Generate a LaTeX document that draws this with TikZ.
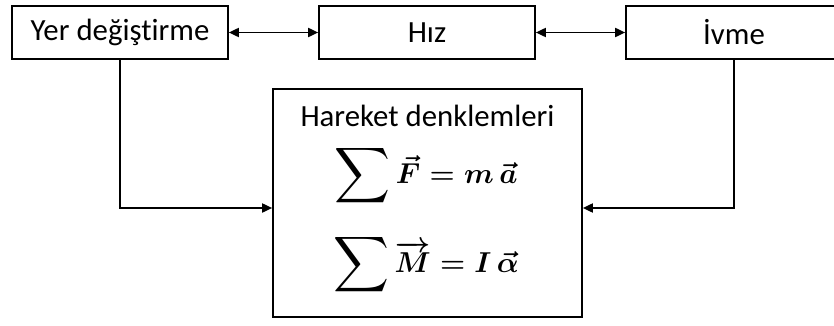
\documentclass[tikz,border=0pt]{standalone}
\usepackage{amsmath,amssymb}
\usepackage{graphicx}
\usepackage{fontspec}
\setmainfont[Ligatures=NoCommon]{Carlito}
\usepackage{tikz}
\usetikzlibrary{arrows.meta}
\newcommand{\buyuktoplam}{\mathop{\vcenter{\hbox{\scalebox{1.25}{$\displaystyle\sum$}}}}}

\begin{document}
\begin{tikzpicture}[x=0.5pt,y=-0.5pt,
	kutu/.style={draw,line width=0.9pt,minimum width=108pt,minimum height=26.5pt,inner sep=0pt,font=\fontsize{15.4}{18}\selectfont},
	bag/.style={line width=0.7pt,-{Triangle[length=5pt,width=4.6pt]}},
	yazi/.style={font=\fontsize{15.4}{18}\selectfont,inner sep=0pt},
	denklem/.style={font=\fontsize{15.5}{18}\selectfont\boldmath,inner sep=0pt}]
\useasboundingbox (0,0) rectangle (834,326);
\node[kutu] (yer) at (120,32.5) {Yer değiştirme};
				\node[kutu] (hiz) at (427,32.5) {Hız};
				\node[kutu] (ivme) at (734,32.5) {İvme};
				\node[draw,line width=0.9pt,minimum width=154.5pt,minimum height=114pt] (denk) at (427.5,203) {};
				\node[yazi] (baslik) at (427.5,116) {Hareket denklemleri};
				\node[denklem] (newton) at (426,176) {$\buyuktoplam \vec{F} = m\,\vec{a}$};
				\node[denklem] (euler) at (426,265) {$\buyuktoplam \overrightarrow{M} = I\,\vec{\alpha}$};

\draw[bag,{Triangle[length=5pt,width=4.6pt]}-{Triangle[length=5pt,width=4.6pt]}] (yer) -- (hiz);
				\draw[bag,{Triangle[length=5pt,width=4.6pt]}-{Triangle[length=5pt,width=4.6pt]}] (hiz) -- (ivme);
				\draw[bag] (yer.south) |- (denk.west |- 0,208);
				\draw[bag] (ivme.south) |- (denk.east |- 0,208);
		\end{tikzpicture}
\end{document}
